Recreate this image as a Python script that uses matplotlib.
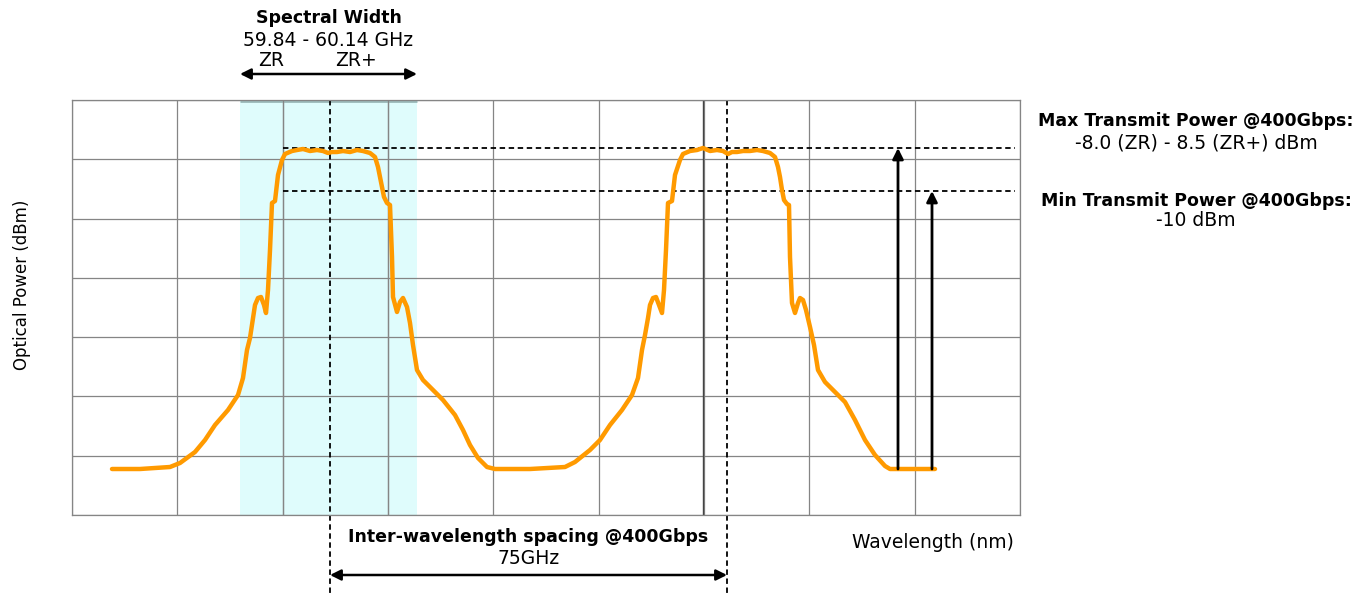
import numpy as np
import matplotlib
matplotlib.use("Agg")
from matplotlib import pyplot as plt

plt.rcParams['font.family'] = ['DejaVu Sans']

# spectrum trace (arbitrary wavelength units, arbitrary power units)
trace_x = [40, 68, 98, 108, 123, 133, 143, 156, 166, 171, 175, 178, 180, 183, 186, 189,
           192, 194, 196, 198, 200, 203, 206, 210, 213, 220, 225, 231, 238, 245, 251, 256,
           260, 265, 271, 278, 285, 291, 298, 303, 306, 308, 310, 312, 315, 318, 320, 321,
           325, 328, 331, 335, 338, 341, 345, 351, 361, 371, 383, 391, 398, 406, 415, 423,
           458, 493,
           503, 518, 528, 538, 550, 560, 566, 570, 573, 576, 578, 581, 584, 587, 590, 592,
           594, 596, 600, 603, 608, 611, 618, 625, 631, 638, 645, 651, 656, 660, 665, 671,
           678, 685, 691, 698, 703, 706, 708, 710, 712, 715, 717, 718, 720, 723, 726, 728,
           731, 734, 738, 742, 746, 753, 763, 773, 783, 793, 803, 813, 818, 838, 863]
trace_y = [46, 46, 48, 52, 63, 75, 90, 105, 120, 137, 165, 177, 190, 210, 217, 218,
           210, 202, 225, 265, 312, 314, 340, 355, 361, 364, 365, 366, 364, 365, 364, 362,
           363, 363, 364, 363, 365, 364, 362, 358, 348, 338, 328, 318, 312, 310, 258, 218,
           203, 213, 217, 208, 192, 170, 145, 135, 125, 115, 100, 85, 70, 57, 48, 46,
           46, 48,
           53, 65, 75, 90, 105, 120, 137, 165, 180, 197, 210, 217, 218, 210, 202, 225,
           265, 312, 314, 340, 355, 361, 364, 365, 367, 364, 365, 364, 361, 363, 363, 364,
           364, 365, 364, 362, 358, 348, 338, 325, 315, 311, 310, 258, 212, 202, 212, 217,
           215, 205, 188, 170, 145, 133, 123, 113, 95, 75, 60, 49, 46, 46, 46]

x_grid = np.linspace(0, 948, 10)
y_grid = np.linspace(0, 415, 8)

band = (168, 345)          # spectral width band
channels = (258, 655)      # channel centres, 75 GHz apart
max_level = 367
min_level = 324
level_start = 211
arrow_x = (826, 860)
arrow_base = 46

orange = '#FF9A00'
fs_b = 12.5
fs = 13.5

fig = plt.figure(figsize=(13.71, 5.96), dpi=100)
ax = fig.add_axes([72 / 1371, 81 / 596, 948 / 1371, 415 / 596])
ax.set_xlim(0, 948)
ax.set_ylim(0, 415)
ax.set_xticks(x_grid)
ax.set_yticks(y_grid)
ax.tick_params(length=0, labelbottom=False, labelleft=False)
ax.grid(True, color='#858585', lw=0.9)
ax.set_axisbelow(True)
for s in ax.spines.values():
    s.set_color('#858585')
    s.set_linewidth(0.9)

# spectral width shading
ax.axvspan(band[0], band[1], color='#dffcfc', zorder=0.5, lw=0)
ax.plot(band, [414, 414], color='#9ab8b8', lw=2, zorder=1, solid_capstyle='butt')
for gx in x_grid[2:4]:
    ax.plot([gx, gx], [0, 415], color='#858585', lw=0.9, zorder=1)
ax.plot([631, 631], [0, 415], color='#444444', lw=1.0, zorder=1)

# power levels
for lvl in (max_level, min_level):
    ax.plot([level_start, 943], [lvl, lvl], color='black', lw=1.3,
            ls=(0, (3, 2)), clip_on=False, zorder=2)
for cx in channels:
    ax.plot([cx, cx], [415, -81], color='black', lw=1.3,
            ls=(0, (3, 2)), clip_on=False, zorder=2)

ax.plot(trace_x, trace_y, color=orange, lw=3.2, zorder=3,
        solid_capstyle='round', solid_joinstyle='round')

# transmit power arrows
for ax_x, top in zip(arrow_x, (max_level, min_level)):
    ax.annotate('', xy=(ax_x, top), xytext=(ax_x, arrow_base),
                arrowprops=dict(arrowstyle='-|>', color='black', lw=2,
                                mutation_scale=16, shrinkA=0, shrinkB=0), zorder=4)

# spectral width annotation
ax.annotate('', xy=(band[0], 441), xytext=(band[1], 441), annotation_clip=False,
            arrowprops=dict(arrowstyle='<|-|>', color='black', lw=1.8,
                            mutation_scale=16, shrinkA=0, shrinkB=0))
cx_band = (band[0] + band[1]) / 2
ax.text(cx_band, 497, 'Spectral Width', ha='center', va='center', fontsize=fs_b,
        fontweight='bold', clip_on=False)
ax.text(cx_band, 475, '59.84 - 60.14 GHz', ha='center', va='center', fontsize=fs,
        clip_on=False)
ax.text(199, 455, 'ZR', ha='center', va='center', fontsize=fs, clip_on=False)
ax.text(284, 455, 'ZR+', ha='center', va='center', fontsize=fs, clip_on=False)

# channel spacing annotation
ax.annotate('', xy=(channels[0], -60), xytext=(channels[1], -60), annotation_clip=False,
            arrowprops=dict(arrowstyle='<|-|>', color='black', lw=1.8,
                            mutation_scale=16, shrinkA=0, shrinkB=0))
cx_ch = (channels[0] + channels[1]) / 2
ax.text(cx_ch, -22, 'Inter-wavelength spacing @400Gbps', ha='center', va='center',
        fontsize=fs_b, fontweight='bold', clip_on=False)
ax.text(cx_ch, -43, '75GHz', ha='center', va='center', fontsize=fs, clip_on=False)

# power labels
ax.text(1124, 394, 'Max Transmit Power @400Gbps:', ha='center', va='center',
        fontsize=fs_b, fontweight='bold', clip_on=False)
ax.text(1124, 372, '-8.0 (ZR) - 8.5 (ZR+) dBm', ha='center', va='center',
        fontsize=fs, clip_on=False)
ax.text(1124, 314, 'Min Transmit Power @400Gbps:', ha='center', va='center',
        fontsize=fs_b, fontweight='bold', clip_on=False)
ax.text(1124, 294, '-10 dBm', ha='center', va='center', fontsize=fs, clip_on=False)

ax.text(861, -28, 'Wavelength (nm)', ha='center', va='center', fontsize=fs, clip_on=False)
ax.text(-50, 230, 'Optical Power (dBm)', ha='center', va='center', rotation=90,
        fontsize=12, clip_on=False)

fig.savefig('out.png', dpi=100)
